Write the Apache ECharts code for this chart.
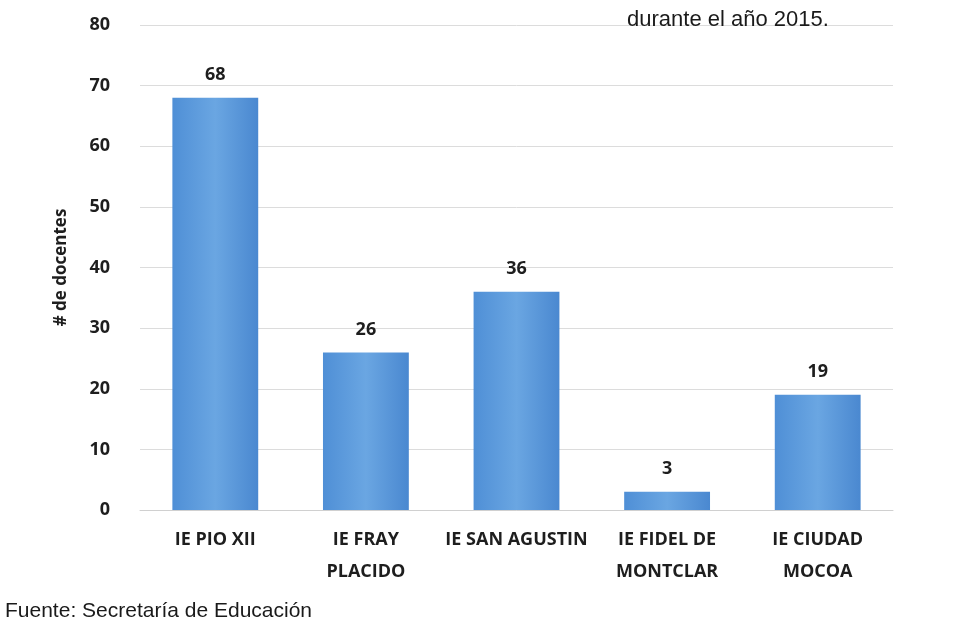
<!DOCTYPE html>
<html>
<head>
<meta charset="utf-8">
<script src="https://cdn.jsdelivr.net/npm/echarts@6/dist/echarts.min.js"></script>
<style>
  html, body { margin: 0; padding: 0; background: #ffffff; }
  #chart { width: 973px; height: 621px; }
</style>
</head>
<body>
<div id="chart"></div>
<script>
// data
const categories = ['IE PIO XII', 'IE FRAY\nPLACIDO', 'IE SAN AGUSTIN', 'IE FIDEL DE\nMONTCLAR', 'IE CIUDAD\nMOCOA'];
const docentes   = [68, 26, 36, 3, 19];
const yTicks     = [0, 10, 20, 30, 40, 50, 60, 70, 80];

const labelFont = "'Liberation Sans Narrow', 'Open Sans', sans-serif";

const chart = echarts.init(document.getElementById('chart'));

chart.setOption({
  backgroundColor: '#ffffff',
  animation: false,
  title: [
    {
      text: 'durante el año 2015.',
      left: 622,
      top: 4,
      textStyle: { fontFamily: 'Liberation Sans, Arial', fontSize: 22, fontWeight: 'normal', color: '#1a1a1a' }
    },
    {
      text: 'Fuente: Secretaría de Educación',
      left: 0,
      top: 596,
      textStyle: { fontFamily: 'Liberation Sans, Arial', fontSize: 21, fontWeight: 'normal', color: '#1a1a1a' }
    }
  ],
  grid: { left: 140, right: 80, top: 25, bottom: 111 },
  xAxis: {
    type: 'category',
    data: categories,
    axisLine: { show: true, lineStyle: { color: '#d0d0d0' } },
    axisTick: { show: false },
    axisLabel: {
      interval: 0,
      margin: 14,
      lineHeight: 32,
      fontFamily: labelFont,
      fontSize: 18,
      fontWeight: 'bold',
      color: '#1e1e1e',
      verticalAlign: 'top'
    }
  },
  yAxis: {
    type: 'value',
    min: yTicks[0],
    max: yTicks[yTicks.length - 1],
    interval: 10,
    name: '# de docentes',
    nameLocation: 'middle',
    nameGap: 70,
    nameRotate: 90,
    nameTextStyle: { fontFamily: labelFont, fontSize: 17, fontWeight: 'bold', color: '#1e1e1e' },
    axisLine: { show: false },
    axisTick: { show: false },
    axisLabel: {
      margin: 30,
      fontFamily: labelFont,
      fontSize: 18,
      fontWeight: 'bold',
      color: '#1e1e1e'
    },
    splitLine: { lineStyle: { color: '#dcdcdc', width: 1 } }
  },
  series: [{
    type: 'bar',
    data: docentes,
    barWidth: '57%',
    itemStyle: {
      color: new echarts.graphic.LinearGradient(0, 0, 1, 0, [
        { offset: 0, color: '#4f8fd6' },
        { offset: 0.5, color: '#6aa6e2' },
        { offset: 1, color: '#4a88d0' }
      ])
    },
    label: {
      show: true,
      position: 'top',
      distance: 14,
      fontFamily: labelFont,
      fontSize: 18,
      fontWeight: 'bold',
      color: '#1e1e1e'
    }
  }]
});
</script>
</body>
</html>
